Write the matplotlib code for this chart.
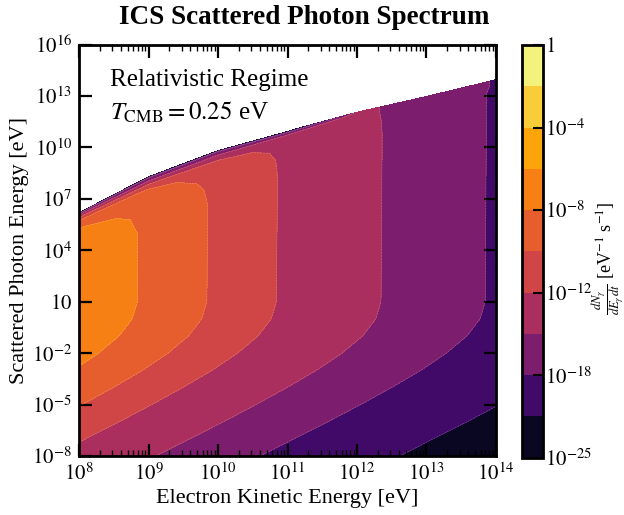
import numpy as np
import matplotlib
matplotlib.use("Agg")
import matplotlib.pyplot as plt

plt.rcParams['font.family'] = ['Liberation Serif', 'DejaVu Serif']
plt.rcParams['mathtext.fontset'] = 'stix'

# ---- data (log10 values) ----
electron_log_E = [8, 9, 10, 11, 12, 13, 14]
plateau_log_rate = [-6.29, -8.29, -10.29, -12.29, -14.28, -16.28, -18.28]
cutoff_log_Egamma = [6.23, 8.33, 9.85, 10.95, 12.05, 12.97, 13.95]

low_photon_log_E = [-8, -6, -5, -4, -3, -2, -1, 0, 1]
low_energy_offset = [-6.5, -4.55, -3.62, -2.72, -1.88, -1.15, -0.56, -0.18, -0.03]

depth_below_cutoff = [3.0, 2.0, 1.5, 1.0, 0.7, 0.5, 0.3, 0.1, 0.0]
cutoff_drop = [
    # x=8   9     10    11    12    13     14
    [0.05, 0.03, 0.0,  0.0,  0.0,  0.0,   0.0],
    [0.35, 0.2,  0.1,  0.0,  0.0,  0.0,   0.0],
    [0.8,  0.5,  0.25, 0.02, 0.0,  0.0,   0.0],
    [1.6,  1.1,  0.6,  0.1,  0.02, 0.0,   0.0],
    [2.6,  1.9,  1.2,  0.25, 0.05, 0.0,   0.0],
    [3.7,  3.6,  2.3,  0.6,  0.08, 0.0,  -0.05],
    [5.9,  6.6,  4.7,  1.5,  0.12, -0.05, -0.1],
    [10.5, 10.0, 7.7,  5.0,  0.15, -0.1,  -0.1],
    [25.0, 22.0, 20.0, 15.0, 0.2,  -0.1,  -0.1],
]

levels = [-25, -22, -18, -15, -12, -10, -8, -6, -4, -2, 0]
cbar_ticks = [-25, -18, -12, -8, -4, 0]
cbar_ticklabels = [r'$10^{-25}$', r'$10^{-18}$', r'$10^{-12}$', r'$10^{-8}$', r'$10^{-4}$', r'$1$']
x_ticks = [8, 9, 10, 11, 12, 13, 14]
x_ticklabels = [r'$10^{%d}$' % v for v in x_ticks]
y_ticks = [-8, -5, -2, 1, 4, 7, 10, 13, 16]
y_ticklabels = [r'$10^{-8}$', r'$10^{-5}$', r'$10^{-2}$', r'$10$', r'$10^{4}$',
                r'$10^{7}$', r'$10^{10}$', r'$10^{13}$', r'$10^{16}$']

# ---- build the grid (curvilinear: upper rows follow the cutoff) ----
xe = np.array(electron_log_E, dtype=float)
pl = np.array(plateau_log_rate)
cut = np.array(cutoff_log_Egamma)
ly = np.array(low_photon_log_E, dtype=float)
lo = np.array(low_energy_offset)
dep = np.array(depth_below_cutoff)
drop = np.array(cutoff_drop)

Y_low = np.repeat(ly[:, None], len(xe), axis=1)
Z_low = pl[None, :] + lo[:, None]
Y_high = cut[None, :] - dep[:, None]
Z_high = pl[None, :] - drop
Y = np.vstack([Y_low, Y_high])
Z = np.vstack([Z_low, Z_high])
X = np.repeat(xe[None, :], Y.shape[0], axis=0)

fig = plt.figure(figsize=(6.24, 5.15), dpi=100)
ax = fig.add_axes([79/624, 1-456/515, 417/624, 411.5/515])
cs = ax.contourf(X, Y, Z, levels=levels, cmap='inferno')
ax.contour(X, Y, Z, levels=levels[1:-1], colors='white', linewidths=0.4, alpha=0.3)

ax.set_xlim(8, 14)
ax.set_ylim(-8, 16)
ax.set_xticks(x_ticks)
ax.set_xticklabels(x_ticklabels)
ax.set_xticks([n + np.log10(k) for n in range(8, 14) for k in range(2, 10)], minor=True)
ax.set_yticks(y_ticks)
ax.set_yticklabels(y_ticklabels)
ax.tick_params(which='major', direction='in', length=9, width=1.6, top=True, right=True,
               labelsize=15, pad=5)
ax.tick_params(which='minor', direction='in', length=4, width=1.0, top=True, right=True)
for s in ax.spines.values():
    s.set_linewidth(2)

ax.set_xlabel('Electron Kinetic Energy [eV]', fontsize=16, labelpad=3)
ax.set_ylabel('Scattered Photon Energy [eV]', fontsize=16, labelpad=2)
fig.text(304/624, 1-17/515, 'ICS Scattered Photon Spectrum', fontsize=19.5,
         fontweight='bold', ha='center', va='center')

ax.text(0.074, 0.914, 'Relativistic Regime', transform=ax.transAxes, fontsize=18, va='center')
ax.text(0.074, 0.834, r'$T_{\rm CMB} = 0.25$ eV', transform=ax.transAxes, fontsize=18, va='center')

cax = fig.add_axes([521.7/624, 1-457.7/515, 21/624, 412.7/515])
cb = fig.colorbar(cs, cax=cax, ticks=cbar_ticks)
cb.ax.set_yticklabels(cbar_ticklabels)
cb.ax.tick_params(direction='in', length=7, width=1.5, labelsize=15, pad=2)
cb.outline.set_linewidth(2)
fig.text(609/624, 1-258/515, r'$\frac{dN_\gamma}{dE_\gamma\, dt}$ [eV$^{-1}$ s$^{-1}$]',
         fontsize=13, rotation=90, ha='center', va='center')

fig.savefig('out.png', dpi=100)
